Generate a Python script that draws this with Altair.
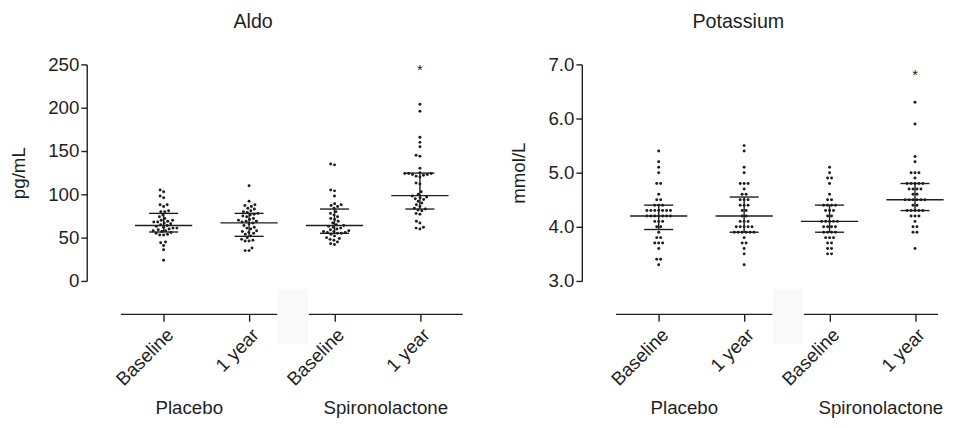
import altair as alt
import pandas as pd

FONT = "Liberation Sans"
INK = "#1e1e1e"

# ---------------- data ----------------
positions = [1, 2, 3, 4]
timepoint_labels = ["Baseline", "1 year", "Baseline", "1 year"]
group_names = ["Placebo", "Spironolactone"]
group_label_pos = [1.3, 3.6]
segment_start = [0.5, 2.7]
segment_end = [2.33, 4.5]
break_box = [2.335, 2.69]

aldo_placebo_baseline = [105, 103, 98, 96, 88, 88, 86, 81, 80, 80, 76, 74, 72, 70, 70, 69, 68, 68,
                         67, 66, 65, 64, 63, 62, 61, 61, 60, 59, 58, 58, 57, 56, 55, 54, 53, 53,
                         45, 44, 41, 36, 24]
aldo_placebo_1y = [110, 92, 88, 87, 86, 84, 83, 81, 80, 79, 78, 77, 76, 75, 74, 72, 71, 70, 69, 69,
                   68, 67, 66, 64, 62, 61, 60, 58, 57, 56, 55, 54, 52, 50, 48, 47, 46, 46, 38, 35, 35]
aldo_spiro_baseline = [135, 134, 105, 104, 98, 89, 88, 87, 86, 84, 80, 78, 76, 74, 72, 71, 69, 67,
                       65, 64, 63, 62, 61, 60, 59, 58, 57, 57, 56, 56, 55, 55, 54, 52, 50, 49, 48,
                       47, 45, 43, 42]
aldo_spiro_1y = [204, 196, 166, 160, 155, 145, 144, 130, 125, 124, 124, 124, 123, 123, 122, 121,
                 120, 113, 112, 103, 100, 98, 97, 96, 95, 94, 92, 90, 88, 86, 84, 83, 82, 81, 78,
                 77, 69, 67, 62, 61, 60]
aldo_center = [64, 67, 64, 98.5]
aldo_upper = [78, 78, 83, 124.5]
aldo_lower = [56.5, 51.5, 55, 83]
aldo_star = [243]
aldo_ticks = [0, 50, 100, 150, 200, 250]

k_placebo_baseline = [5.4, 5.2, 5.1, 5.0, 4.8, 4.8, 4.6, 4.5, 4.5, 4.4, 4.4, 4.4,
                      4.3, 4.3, 4.3, 4.3, 4.3, 4.3, 4.3, 4.2, 4.2, 4.2, 4.2, 4.2, 4.2, 4.2,
                      4.1, 4.1, 4.1, 4.0, 4.0, 3.9, 3.8, 3.8, 3.7, 3.7, 3.7, 3.6, 3.4, 3.4, 3.3]
k_placebo_1y = [5.5, 5.4, 5.1, 5.0, 4.8, 4.8, 4.8, 4.7, 4.6, 4.6, 4.5, 4.5, 4.5, 4.4, 4.4, 4.4,
                4.3, 4.3, 4.2, 4.2, 4.1, 4.1, 4.1, 4.0, 4.0, 4.0, 4.0, 4.0,
                3.9, 3.9, 3.9, 3.9, 3.9, 3.9, 3.8, 3.7, 3.7, 3.6, 3.5, 3.3]
k_spiro_baseline = [5.1, 5.0, 4.9, 4.9, 4.8, 4.6, 4.5, 4.5, 4.4, 4.4, 4.4, 4.4, 4.3, 4.3, 4.3,
                    4.2, 4.2, 4.1, 4.1, 4.1, 4.1, 4.1, 4.0, 4.0, 4.0, 4.0, 3.9, 3.9, 3.9, 3.9,
                    3.8, 3.8, 3.8, 3.7, 3.7, 3.6, 3.6, 3.5, 3.5]
k_spiro_1y = [6.3, 5.9, 5.3, 5.2, 5.0, 5.0, 5.0, 4.9, 4.8, 4.8, 4.8, 4.8, 4.8, 4.7, 4.7, 4.7, 4.7,
              4.6, 4.6, 4.5, 4.5, 4.5, 4.5, 4.5, 4.5, 4.4, 4.4, 4.3, 4.3, 4.3, 4.3, 4.3,
              4.2, 4.2, 4.2, 4.1, 4.0, 4.0, 3.9, 3.9, 3.6]
k_center = [4.2, 4.2, 4.1, 4.5]
k_upper = [4.4, 4.55, 4.4, 4.8]
k_lower = [3.95, 3.9, 3.9, 4.3]
k_star = [6.8]
k_ticks = [3, 4, 5, 6, 7]

# ---------------- layout constants ----------------
PX_PER_X = 86.8
PLOT_H = 220
MID_HALF = 0.335
CAP_HALF = 0.17
DOT_D = 4.0


def beeswarm(vals, px_per_y):
    order = sorted(range(len(vals)), key=lambda i: vals[i])
    placed = []
    offs = [0.0] * len(vals)
    for i in order:
        y = vals[i] * px_per_y
        cands = [0.0]
        for xj, yj in placed:
            dy = abs(y - yj)
            if dy < DOT_D:
                dx = (DOT_D ** 2 - dy ** 2) ** 0.5
                cands += [xj + dx, xj - dx]
        cands.sort(key=lambda c: (round(abs(c), 6), c))
        for c in cands:
            if all((c - xj) ** 2 + (y - yj) ** 2 >= DOT_D ** 2 - 1e-6 for xj, yj in placed):
                offs[i] = c
                placed.append((c, y))
                break
    return offs


def rows_layout(vals, px_per_y):
    counts = {}
    for v in vals:
        counts[v] = counts.get(v, 0) + 1
    seen = {}
    offs = []
    for v in vals:
        k = seen.get(v, 0)
        seen[v] = k + 1
        offs.append((k - (counts[v] - 1) / 2) * DOT_D)
    return offs


def panel(series, center, upper, lower, star, title, ytitle, ydomain, yticks, yfmt, width, layout):
    xmin = 0.1
    xmax = xmin + width / PX_PER_X
    px_per_y = PLOT_H / (ydomain[1] - ydomain[0])
    rows = []
    for pos, vals in zip(positions, series):
        offs = layout(vals, px_per_y)
        for v, o in zip(vals, offs):
            rows.append({"x": pos + o / PX_PER_X, "value": v})
    pts = pd.DataFrame(rows)
    summ = pd.DataFrame({
        "pos": positions, "center": center, "upper": upper, "lower": lower,
        "m1": [p - MID_HALF for p in positions], "m2": [p + MID_HALF for p in positions],
        "c1": [p - CAP_HALF for p in positions], "c2": [p + CAP_HALF for p in positions],
    })
    segs = pd.DataFrame({"s1": segment_start, "s2": [min(e, xmax) for e in segment_end]})
    groups = pd.DataFrame({"g": group_label_pos, "name": group_names})
    stars = pd.DataFrame({"x": [positions[-1]], "v": star})
    box = pd.DataFrame({"b1": [break_box[0]], "b2": [break_box[1]]})

    xs = alt.Scale(domain=[xmin, xmax], nice=False, zero=False)
    ys = alt.Scale(domain=ydomain, nice=False, zero=False)
    label_expr = ("datum.value == 1 || datum.value == 3 ? 'Baseline' : '1 year'")
    xaxis = alt.Axis(values=positions, labelExpr=label_expr, title=None, domain=False,
                     offset=34, tickSize=7, labelAngle=-45, labelAlign="right",
                     labelBaseline="top", labelPadding=4, labelOverlap=False, grid=False)
    yaxis = alt.Axis(values=yticks, format=yfmt, title=ytitle, tickSize=6, labelPadding=2,
                     titlePadding=20, grid=False, labelOverlap=False)

    def X(f):
        return alt.X(f, scale=xs, axis=xaxis, title=None)

    def Y(f):
        return alt.Y(f, scale=ys, axis=yaxis, title=ytitle)

    boxl = alt.Chart(box).mark_rect(color="#f9f9f9").encode(
        x=X("b1:Q"), x2="b2:Q", y=alt.value(228), y2=alt.value(284))
    dots = alt.Chart(pts).mark_circle(size=9, color=INK, opacity=1).encode(
        x=X("x:Q"), y=Y("value:Q"))
    mid = alt.Chart(summ).mark_rule(color=INK, strokeWidth=1.4).encode(
        x=X("m1:Q"), x2="m2:Q", y=Y("center:Q"))
    cap_hi = alt.Chart(summ).mark_rule(color=INK, strokeWidth=1.4).encode(
        x=X("c1:Q"), x2="c2:Q", y=Y("upper:Q"))
    cap_lo = alt.Chart(summ).mark_rule(color=INK, strokeWidth=1.4).encode(
        x=X("c1:Q"), x2="c2:Q", y=Y("lower:Q"))
    vert = alt.Chart(summ).mark_rule(color=INK, strokeWidth=1.4).encode(
        x=X("pos:Q"), y=Y("lower:Q"), y2="upper:Q")
    st = alt.Chart(stars).mark_text(text="*", font=FONT, fontSize=15, color=INK, dy=0).encode(
        x=X("x:Q"), y=Y("v:Q"))
    seg = alt.Chart(segs).mark_rule(color=INK, strokeWidth=1.4).encode(
        x=X("s1:Q"), x2="s2:Q", y=alt.value(254))
    grp = alt.Chart(groups).mark_text(font=FONT, fontSize=19, color=INK, baseline="middle").encode(
        x=X("g:Q"), y=alt.value(349), text="name:N")

    return alt.layer(boxl, dots, mid, cap_hi, cap_lo, vert, st, seg, grp).properties(
        width=width, height=PLOT_H,
        title=alt.TitleParams(title, anchor="middle", offset=24, dx=-22))


left = panel([aldo_placebo_baseline, aldo_placebo_1y, aldo_spiro_baseline, aldo_spiro_1y],
             aldo_center, aldo_upper, aldo_lower, aldo_star, "Aldo", "pg/mL",
             [0, 250], aldo_ticks, "d", 382, beeswarm)
right = panel([k_placebo_baseline, k_placebo_1y, k_spiro_baseline, k_spiro_1y],
              k_center, k_upper, k_lower, k_star, "Potassium", "mmol/L",
              [3, 7], k_ticks, ".1f", 362, rows_layout)

chart = alt.hconcat(left, right, spacing=46).properties(
    padding={"left": 1, "top": 1, "right": 0, "bottom": 0}
).configure_view(stroke=None).configure_axis(
    domainColor=INK, tickColor=INK, domainWidth=1.4, tickWidth=1.4,
    labelColor=INK, titleColor=INK, labelFont=FONT, titleFont=FONT,
    labelFontSize=19, titleFontSize=19, titleFontWeight="normal"
).configure_title(font=FONT, fontSize=20, fontWeight="normal", color=INK)

chart.save("out.html", embed_options={"renderer": "svg", "actions": False})
